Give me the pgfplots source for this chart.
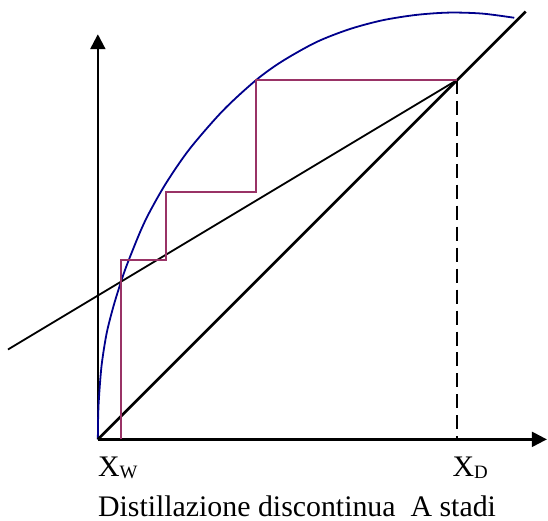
\documentclass[border=0pt]{standalone}
\usepackage{fontspec}
\setmainfont{Liberation Serif}
\usepackage{pgfplots}
\pgfplotsset{compat=1.18}
\usetikzlibrary{arrows.meta}
\definecolor{eqblue}{RGB}{0,0,140}
\definecolor{stepc}{RGB}{153,51,102}
\begin{document}
\begin{tikzpicture}
\begin{axis}[
  width=548bp, height=521bp, scale only axis,
  xmin=-0.272222, xmax=1.25, ymin=-0.225, ymax=1.222222,
  hide axis, clip=false,
]
% invisible frame for bounding box
\addplot[draw=none] coordinates {(-0.272222,-0.225) (1.25,1.222222)};
% axes
\addplot[black, line width=2.3bp, -{Triangle[length=15bp,width=15bp]}] coordinates {(0,0) (1.249,0)};
\addplot[black, line width=2.3bp, -{Triangle[length=15bp,width=15bp]}] coordinates {(0,0) (0,1.127)};
% equilibrium curve
\addplot[eqblue, line width=1.8bp, smooth, tension=0.5] coordinates {
(0,0) (0.0007,0.058) (0.0028,0.111) (0.0103,0.205) (0.0242,0.294) (0.0425,0.367)
(0.0611,0.428) (0.0797,0.4825) (0.1167,0.5749) (0.1444,0.6332) (0.1908,0.7144)
(0.2556,0.8083) (0.3481,0.9147) (0.4408,1.0000) (0.5139,1.0525) (0.6083,1.1053)
(0.7000,1.1411) (0.7917,1.1658) (0.8861,1.1808) (0.9778,1.1872) (1.0694,1.1844)
(1.1583,1.1728)};
% diagonal
\addplot[black, line width=2.6bp] coordinates {(0,0) (1.19,1.19)};
% operating line
\addplot[black, line width=1.8bp] coordinates {(-0.25,0.25) (1,1)};
% dashed x_D
\addplot[black, line width=2.2bp, dash pattern=on 14bp off 7bp] coordinates {(1,1) (1,0)};
% steps
\addplot[stepc, line width=2bp] coordinates {
(0.063,0) (0.063,0.498) (0.189,0.498) (0.189,0.687) (0.439,0.687) (0.439,1) (1,1)};
% labels
\node[anchor=base west, inner sep=0, font=\fontsize{30}{36}\selectfont] at (axis cs:0,-0.104) {X\raisebox{-1.5bp}{\fontsize{19}{19}\selectfont W}};
\node[anchor=base west, inner sep=0, font=\fontsize{30}{36}\selectfont] at (axis cs:0.986,-0.104) {X\raisebox{-1.5bp}{\fontsize{19}{19}\selectfont D}};
\node[anchor=base west, inner sep=0, font=\fontsize{30}{36}\selectfont] at (axis cs:0,-0.2139) {Distillazione discontinua\ \ A stadi};
\end{axis}
\end{tikzpicture}
\end{document}
